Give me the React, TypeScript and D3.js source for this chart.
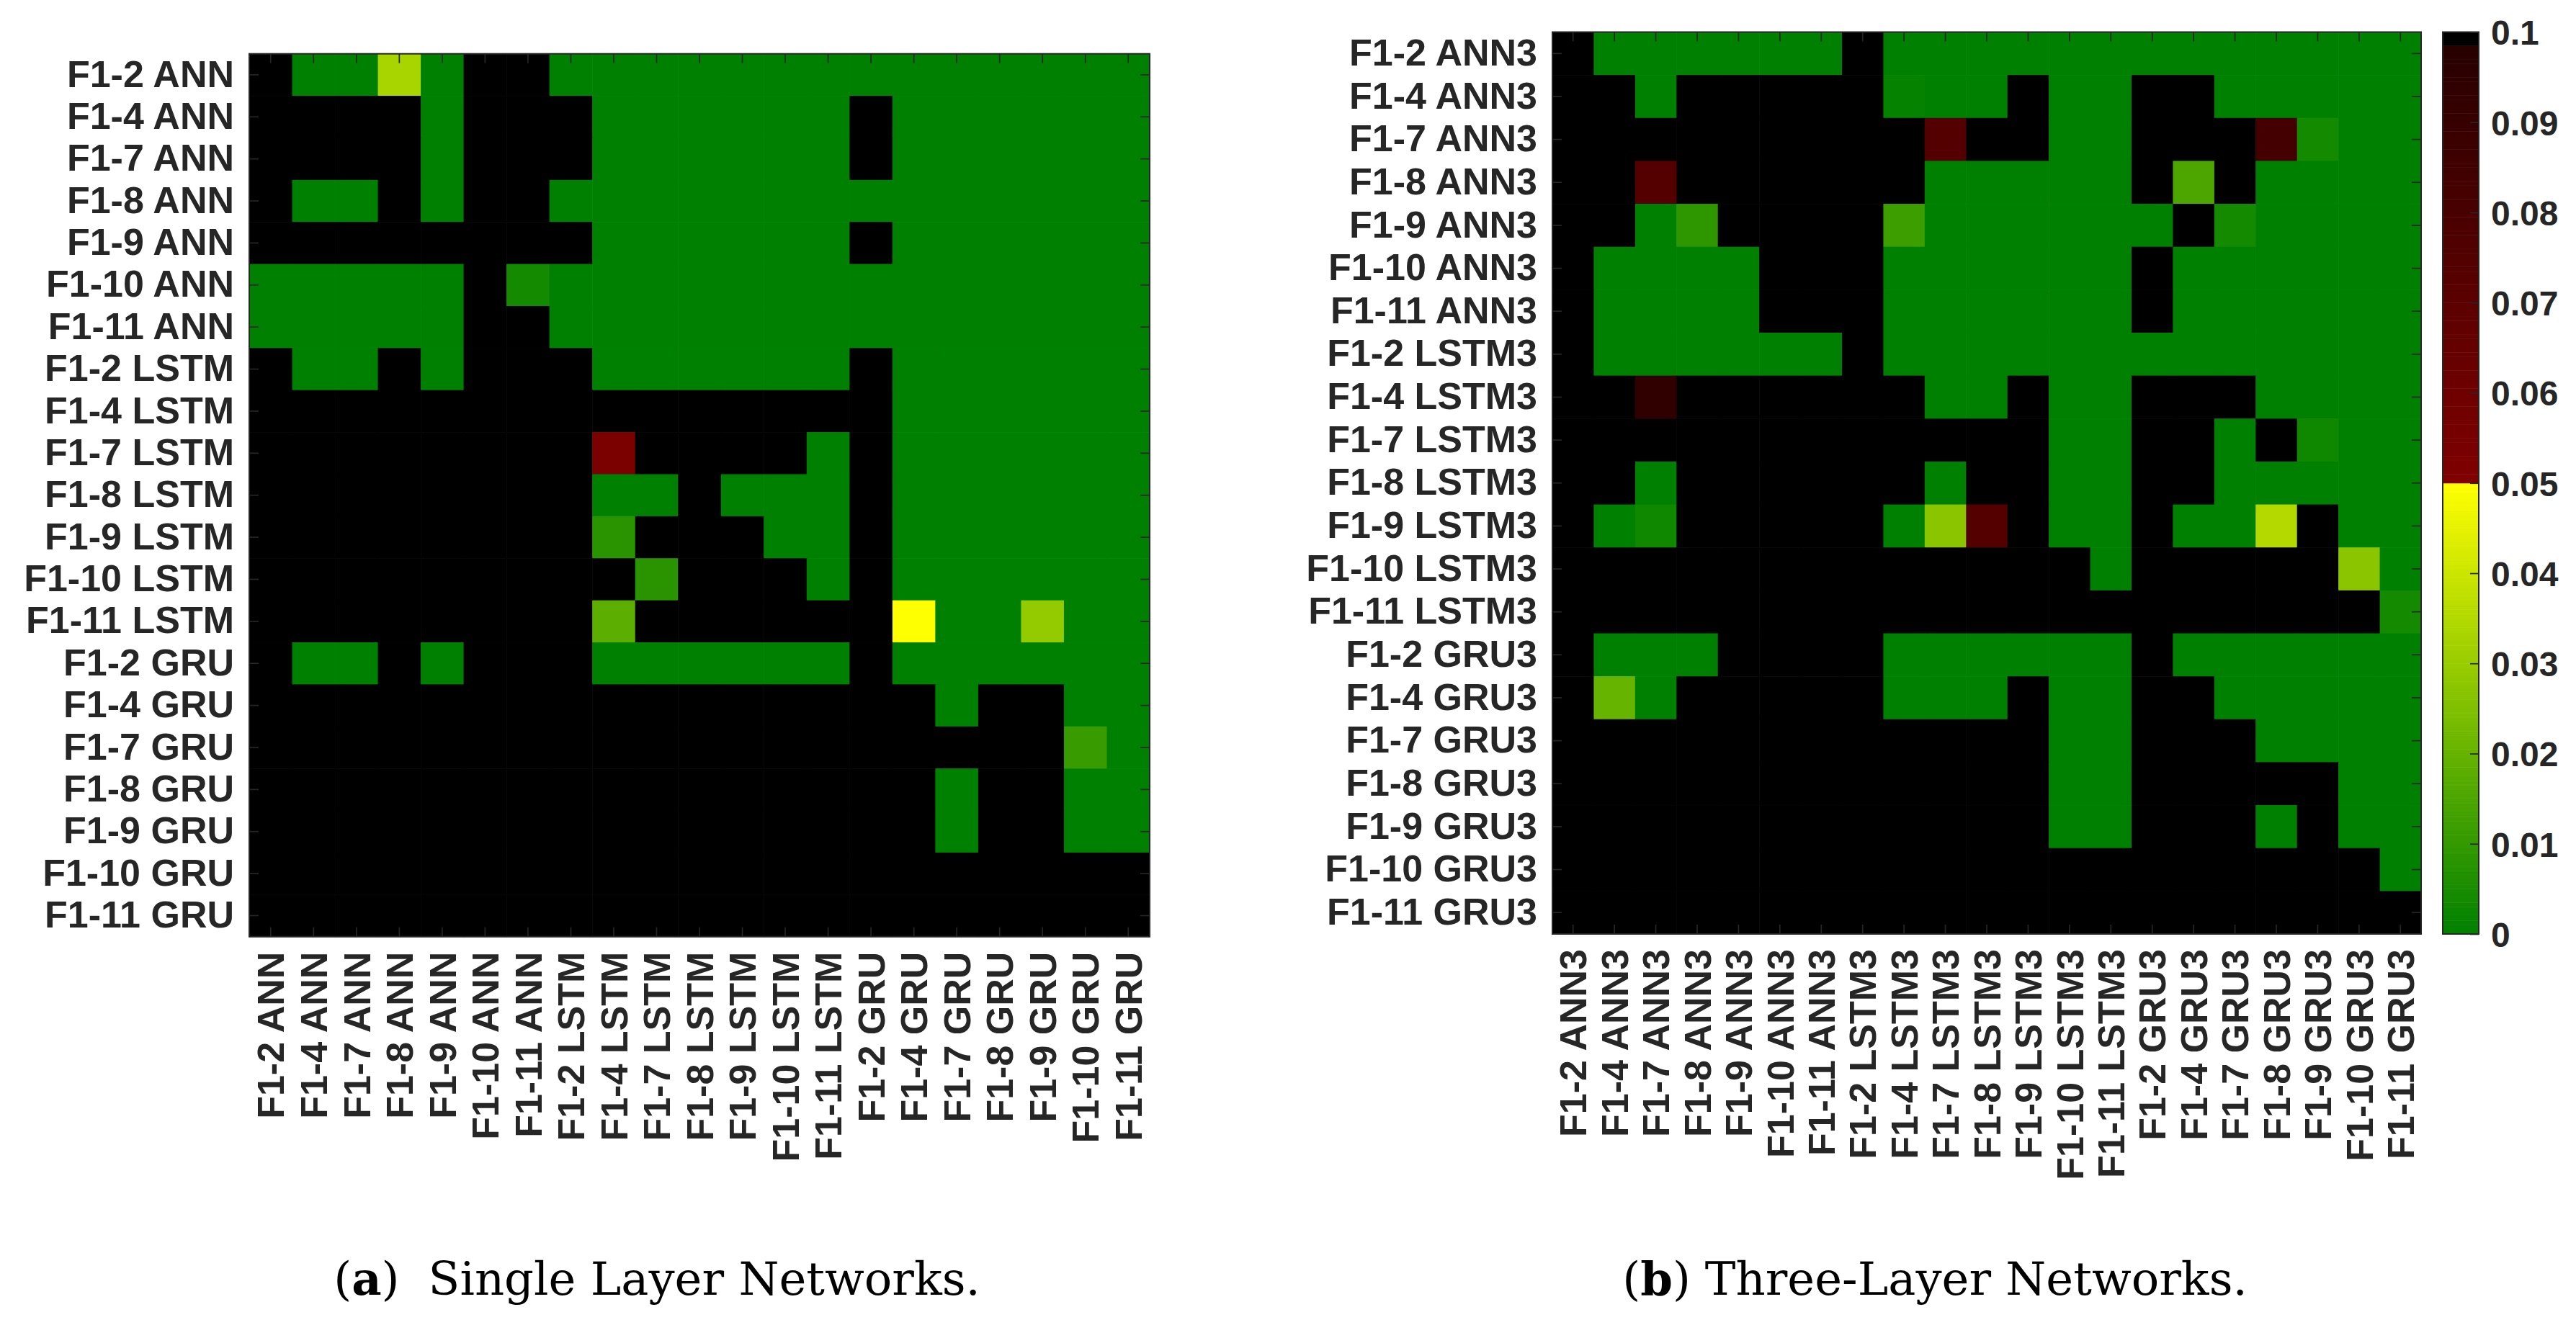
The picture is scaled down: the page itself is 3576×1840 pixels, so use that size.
import React, { useEffect, useRef } from 'react';
import { select, scaleBand, scaleLinear, axisLeft, axisRight, axisTop, axisBottom, interpolateRgb, range } from 'd3';

// p >= 0.1 is clipped to the top of the colour scale (drawn black)
const B = 0.1;

const singleLabels = [
    'F1-2 ANN', 'F1-4 ANN', 'F1-7 ANN', 'F1-8 ANN', 'F1-9 ANN', 'F1-10 ANN', 'F1-11 ANN',
    'F1-2 LSTM', 'F1-4 LSTM', 'F1-7 LSTM', 'F1-8 LSTM', 'F1-9 LSTM', 'F1-10 LSTM', 'F1-11 LSTM',
    'F1-2 GRU', 'F1-4 GRU', 'F1-7 GRU', 'F1-8 GRU', 'F1-9 GRU', 'F1-10 GRU', 'F1-11 GRU',
];

const threeLabels = [
    'F1-2 ANN3', 'F1-4 ANN3', 'F1-7 ANN3', 'F1-8 ANN3', 'F1-9 ANN3', 'F1-10 ANN3', 'F1-11 ANN3',
    'F1-2 LSTM3', 'F1-4 LSTM3', 'F1-7 LSTM3', 'F1-8 LSTM3', 'F1-9 LSTM3', 'F1-10 LSTM3', 'F1-11 LSTM3',
    'F1-2 GRU3', 'F1-4 GRU3', 'F1-7 GRU3', 'F1-8 GRU3', 'F1-9 GRU3', 'F1-10 GRU3', 'F1-11 GRU3',
];

// single layer networks, row = y label, column = x label
const singleValues = [
    [B, 0, 0, 0.033, 0, B, B, 0, 0, 0, 0, 0, 0, 0, 0, 0, 0, 0, 0, 0, 0],
    [B, B, B, B, 0, B, B, B, 0, 0, 0, 0, 0, 0, B, 0, 0, 0, 0, 0, 0],
    [B, B, B, B, 0, B, B, B, 0, 0, 0, 0, 0, 0, B, 0, 0, 0, 0, 0, 0],
    [B, 0, 0, B, 0, B, B, 0, 0, 0, 0, 0, 0, 0, 0, 0, 0, 0, 0, 0, 0],
    [B, B, B, B, B, B, B, B, 0, 0, 0, 0, 0, 0, B, 0, 0, 0, 0, 0, 0],
    [0, 0, 0, 0, 0, B, 0.004, 0, 0, 0, 0, 0, 0, 0, 0, 0, 0, 0, 0, 0, 0],
    [0, 0, 0, 0, 0, B, B, 0, 0, 0, 0, 0, 0, 0, 0, 0, 0, 0, 0, 0, 0],
    [B, 0, 0, B, 0, B, B, B, 0, 0, 0, 0, 0, 0, B, 0, 0, 0, 0, 0, 0],
    [B, B, B, B, B, B, B, B, B, B, B, B, B, B, B, 0, 0, 0, 0, 0, 0],
    [B, B, B, B, B, B, B, B, 0.053, B, B, B, B, 0, B, 0, 0, 0, 0, 0, 0],
    [B, B, B, B, B, B, B, B, 0, 0, B, 0, 0, 0, B, 0, 0, 0, 0, 0, 0],
    [B, B, B, B, B, B, B, B, 0.008, B, B, B, 0, 0, B, 0, 0, 0, 0, 0, 0],
    [B, B, B, B, B, B, B, B, B, 0.008, B, B, B, 0, B, 0, 0, 0, 0, 0, 0],
    [B, B, B, B, B, B, B, B, 0.018, B, B, B, B, B, B, 0.0499, 0, 0, 0.029, 0, 0],
    [B, 0, 0, B, 0, B, B, B, 0, 0, 0, 0, 0, 0, B, 0, 0, 0, 0, 0, 0],
    [B, B, B, B, B, B, B, B, B, B, B, B, B, B, B, B, 0, B, B, 0, 0],
    [B, B, B, B, B, B, B, B, B, B, B, B, B, B, B, B, B, B, B, 0.011, 0],
    [B, B, B, B, B, B, B, B, B, B, B, B, B, B, B, B, 0, B, B, 0, 0],
    [B, B, B, B, B, B, B, B, B, B, B, B, B, B, B, B, 0, B, B, 0, 0],
    [B, B, B, B, B, B, B, B, B, B, B, B, B, B, B, B, B, B, B, B, B],
    [B, B, B, B, B, B, B, B, B, B, B, B, B, B, B, B, B, B, B, B, B],
];

// three-layer networks
const threeValues = [
    [B, 0, 0, 0, 0, 0, 0, B, 0, 0, 0, 0, 0, 0, 0, 0, 0, 0, 0, 0, 0],
    [B, B, 0, B, B, B, B, B, 0.001, 0, 0, B, 0, 0, B, B, 0, 0, 0, 0, 0],
    [B, B, B, B, B, B, B, B, B, 0.074, B, B, 0, 0, B, B, B, 0.083, 0.004, 0, 0],
    [B, B, 0.074, B, B, B, B, B, B, 0, 0, 0, 0, 0, B, 0.015, B, 0, 0, 0, 0],
    [B, B, 0, 0.009, B, B, B, B, 0.012, 0, 0, 0, 0, 0, 0, B, 0.004, 0, 0, 0, 0],
    [B, 0, 0, 0, 0, B, B, B, 0, 0, 0, 0, 0, 0, B, 0, 0, 0, 0, 0, 0],
    [B, 0, 0, 0, 0, B, B, B, 0, 0, 0, 0, 0, 0, B, 0, 0, 0, 0, 0, 0],
    [B, 0, 0, 0, 0, 0, 0, B, 0, 0, 0, 0, 0, 0, 0, 0, 0, 0, 0, 0, 0],
    [B, B, 0.094, B, B, B, B, B, B, 0, 0, B, 0, 0, B, B, B, 0, 0, 0, 0],
    [B, B, B, B, B, B, B, B, B, B, B, B, 0, 0, B, B, 0, B, 0.003, 0, 0],
    [B, B, 0, B, B, B, B, B, B, 0, B, B, 0, 0, B, B, 0, 0, 0, 0, 0],
    [B, 0, 0.003, B, B, B, B, B, 0, 0.027, 0.074, B, 0, 0, B, 0, 0, 0.035, B, 0, 0],
    [B, B, B, B, B, B, B, B, B, B, B, B, B, 0, B, B, B, B, B, 0.027, 0],
    [B, B, B, B, B, B, B, B, B, B, B, B, B, B, B, B, B, B, B, B, 0.004],
    [B, 0, 0, 0, B, B, B, B, 0, 0, 0, 0, 0, 0, B, 0, 0, 0, 0, 0, 0],
    [B, 0.02, 0, B, B, B, B, B, 0, 0, 0, B, 0, 0, B, B, 0, 0, 0, 0, 0],
    [B, B, B, B, B, B, B, B, B, B, B, B, 0, 0, B, B, B, 0, 0, 0, 0],
    [B, B, B, B, B, B, B, B, B, B, B, B, 0, 0, B, B, B, B, B, 0, 0],
    [B, B, B, B, B, B, B, B, B, B, B, B, 0, 0, B, B, B, 0, B, 0, 0],
    [B, B, B, B, B, B, B, B, B, B, B, B, B, B, B, B, B, B, B, B, 0],
    [B, B, B, B, B, B, B, B, B, B, B, B, B, B, B, B, B, B, B, B, B],
];

const colorbarTicks = [0, 0.01, 0.02, 0.03, 0.04, 0.05, 0.06, 0.07, 0.08, 0.09, 0.1];
const colorbarLabels = ['0', '0.01', '0.02', '0.03', '0.04', '0.05', '0.06', '0.07', '0.08', '0.09', '0.1'];

const TEXT = '#262626';
const LABEL_FONT = "'Liberation Sans', Arial, sans-serif";

// green -> yellow below 0.05, dark red -> near black above, black at the top
const lowRamp = interpolateRgb('#008000', '#ffff00');
const highRamp = interpolateRgb('#800000', '#280000');
const cellColor = (v) => {
    if (v >= 0.0986) return '#000000';
    if (v < 0.05) return lowRamp(v / 0.05);
    return highRamp((v - 0.05) / 0.0486);
};

function drawHeatmap(svg, labels, values, x0, x1, y0, y1) {
    const xScale = scaleBand().domain(labels).range([x0, x1]);
    const yScale = scaleBand().domain(labels).range([y0, y1]);
    const g = svg.append('g');

    const cells = values.flatMap((row, i) => row.map((v, j) => ({ row: labels[i], col: labels[j], v })));
    g.selectAll('.cell')
        .data(cells)
        .join('rect')
        .attr('class', 'cell')
        .attr('x', d => xScale(d.col))
        .attr('y', d => yScale(d.row))
        .attr('width', xScale.bandwidth() + 0.6)
        .attr('height', yScale.bandwidth() + 0.6)
        .attr('fill', d => cellColor(d.v));

    const style = (a) => {
        a.select('.domain').remove();
        a.attr('color', TEXT)
            .attr('font-family', LABEL_FONT)
            .attr('font-size', 52)
            .attr('font-weight', 'bold');
        a.selectAll('line').attr('stroke-width', 1.7);
        a.selectAll('text').attr('fill', TEXT);
    };

    g.append('g')
        .attr('transform', `translate(${x0},0)`)
        .call(axisLeft(yScale).tickSizeInner(-13).tickSizeOuter(0).tickPadding(21))
        .call(style);

    g.append('g')
        .attr('transform', `translate(${x1},0)`)
        .call(axisRight(yScale).tickSizeInner(-13).tickSizeOuter(0).tickFormat(() => ''))
        .call(style);

    g.append('g')
        .attr('transform', `translate(0,${y0})`)
        .call(axisTop(xScale).tickSizeInner(-13).tickSizeOuter(0).tickFormat(() => ''))
        .call(style);

    g.append('g')
        .attr('transform', `translate(0,${y1})`)
        .call(axisBottom(xScale).tickSizeInner(-13).tickSizeOuter(0))
        .call(style)
        .selectAll('text')
        .attr('transform', 'rotate(-90)')
        .attr('text-anchor', 'end')
        .attr('x', -21)
        .attr('y', 0)
        .attr('dy', '0.36em');

    g.append('rect')
        .attr('x', x0)
        .attr('y', y0)
        .attr('width', x1 - x0)
        .attr('height', y1 - y0)
        .attr('fill', 'none')
        .attr('stroke', TEXT)
        .attr('stroke-width', 2);
}

function drawColorbar(svg, x0, x1, y0, y1) {
    const cScale = scaleLinear().domain([0, 0.1]).range([y1, y0]);
    const g = svg.append('g');
    const steps = range(0, 0.1, 0.0005);

    g.selectAll('.band')
        .data(steps)
        .join('rect')
        .attr('class', 'band')
        .attr('x', x0)
        .attr('width', x1 - x0)
        .attr('y', d => cScale(d + 0.0005))
        .attr('height', cScale(0) - cScale(0.0005) + 0.5)
        .attr('fill', d => cellColor(d + 0.00025));

    const axis = axisRight(cScale)
        .tickValues(colorbarTicks)
        .tickFormat((d, i) => colorbarLabels[i])
        .tickSizeInner(-12)
        .tickSizeOuter(0)
        .tickPadding(17);

    const a = g.append('g')
        .attr('transform', `translate(${x1},0)`)
        .call(axis);
    a.select('.domain').remove();
    a.attr('color', TEXT)
        .attr('font-family', LABEL_FONT)
        .attr('font-size', 48)
        .attr('font-weight', 'bold');
    a.selectAll('line').attr('stroke-width', 1.7);
    a.selectAll('text').attr('fill', TEXT).attr('dy', '0.36em');

    g.append('rect')
        .attr('x', x0)
        .attr('y', y0)
        .attr('width', x1 - x0)
        .attr('height', y1 - y0)
        .attr('fill', 'none')
        .attr('stroke', TEXT)
        .attr('stroke-width', 2);
}

function drawCaption(svg, cx, letter, title, gap) {
    const t = svg.append('text')
        .attr('x', cx)
        .attr('y', 1798)
        .attr('text-anchor', 'middle')
        .attr('font-family', "'DejaVu Serif', serif")
        .attr('font-size', 64)
        .attr('fill', '#000');
    t.append('tspan').text('(');
    t.append('tspan').attr('font-weight', 'bold').text(letter);
    t.append('tspan').text(')');
    t.append('tspan').attr('dx', gap).text(title);
}

const App = () => {
    const svgRef = useRef<SVGSVGElement | null>(null);

    useEffect(() => {
        const svg = select(svgRef.current);
        svg.selectAll('*').remove();

        drawHeatmap(svg, singleLabels, singleValues, 346, 1596, 74.7, 1300.7);
        drawHeatmap(svg, threeLabels, threeValues, 2155, 3361, 44.5, 1297);
        drawColorbar(svg, 3391, 3441, 44.5, 1297);

        drawCaption(svg, 912, 'a', 'Single Layer Networks.', 40);
        drawCaption(svg, 2686, 'b', 'Three-Layer Networks.', 20);
    }, []);

    return (
        <svg
            ref={svgRef}
            width={3576}
            height={1840}
            style={{ position: 'absolute', left: 0, top: 0, background: '#fff' }}
        />
    );
};

export default App;
